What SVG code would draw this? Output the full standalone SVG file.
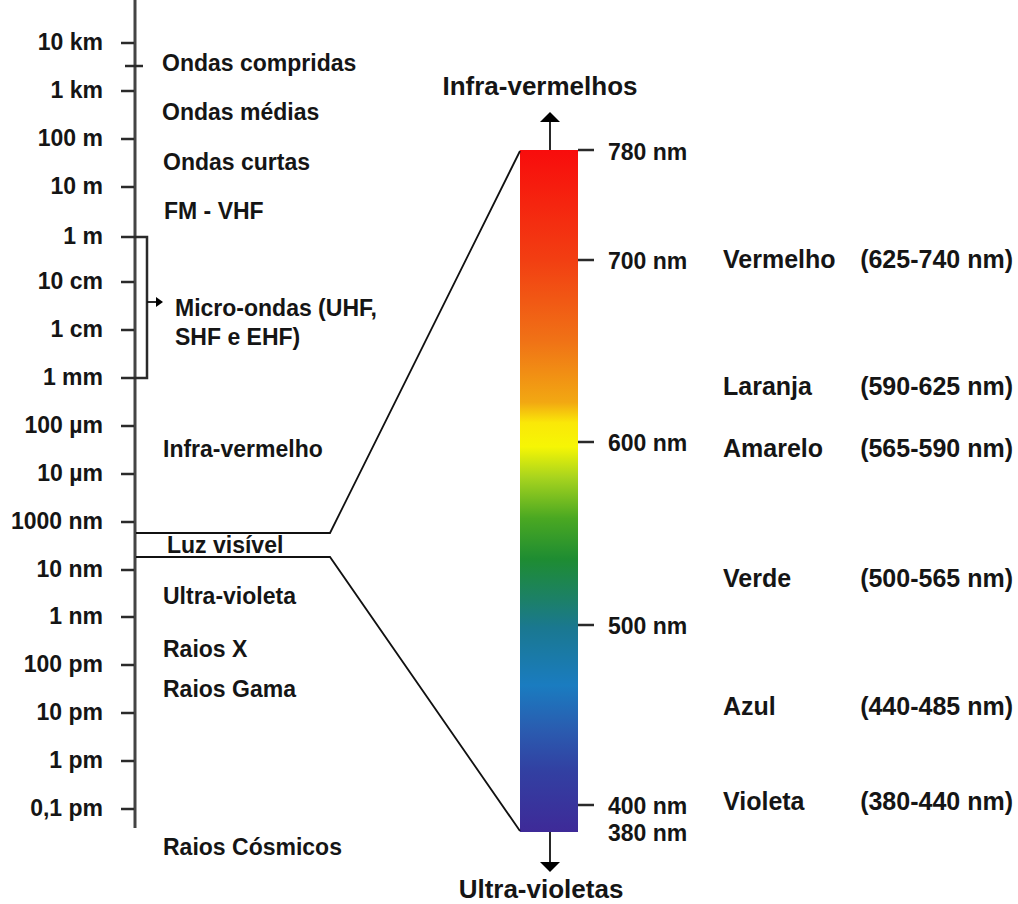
<svg xmlns="http://www.w3.org/2000/svg" width="1018" height="904" viewBox="0 0 1018 904">
<style>
text{font-family:"Liberation Sans",Arial,sans-serif;font-weight:bold;fill:#151515}
.tl{font-size:23px;text-anchor:end}
.bl{font-size:23px}
.nm{font-size:23px}
.cl{font-size:25px}
.rg{font-size:25px;text-anchor:end}
.tt{font-size:26px;text-anchor:middle}
.ax{stroke:#444;stroke-width:3;fill:none}
.tk{stroke:#2a2a2a;stroke-width:2.5;fill:none}
.ln{stroke:#111;stroke-width:1.8;fill:none}
</style>
<defs>
<linearGradient id="spec" x1="0" y1="0" x2="0" y2="1">
<stop offset="0" stop-color="#f80c0c"/>
<stop offset="0.16" stop-color="#f23e12"/>
<stop offset="0.28" stop-color="#f07216"/>
<stop offset="0.37" stop-color="#f2a812"/>
<stop offset="0.40" stop-color="#fae808"/>
<stop offset="0.435" stop-color="#f6f604"/>
<stop offset="0.48" stop-color="#a8d41e"/>
<stop offset="0.54" stop-color="#4aa822"/>
<stop offset="0.60" stop-color="#1e8c32"/>
<stop offset="0.66" stop-color="#1c8068"/>
<stop offset="0.70" stop-color="#1a7890"/>
<stop offset="0.785" stop-color="#1a7cc0"/>
<stop offset="0.85" stop-color="#2a5cb0"/>
<stop offset="0.91" stop-color="#3240a2"/>
<stop offset="1" stop-color="#3e2a98"/>
</linearGradient>
<marker id="ah" markerUnits="userSpaceOnUse" markerWidth="10" markerHeight="20" viewBox="0 0 10 20" refX="0" refY="10" orient="auto">
<path d="M0,0 L10,10 L0,20 z" fill="#000"/>
</marker>
<marker id="ahs" markerUnits="userSpaceOnUse" markerWidth="7" markerHeight="10" viewBox="0 0 7 10" refX="0" refY="5" orient="auto">
<path d="M0,0 L7,5 L0,10 z" fill="#000"/>
</marker>
</defs>
<rect width="1018" height="904" fill="#fff"/>

<g id="scale-axis">
<line class="ax" x1="135" y1="0" x2="135" y2="828"/>
<line class="tk" x1="125" y1="66" x2="143" y2="66"/>
<line class="tk" x1="121" y1="43" x2="134" y2="43"/>
<line class="tk" x1="121" y1="91" x2="134" y2="91"/>
<line class="tk" x1="121" y1="139" x2="134" y2="139"/>
<line class="tk" x1="121" y1="187" x2="134" y2="187"/>
<line class="tk" x1="121" y1="282" x2="134" y2="282"/>
<line class="tk" x1="121" y1="330" x2="134" y2="330"/>
<line class="tk" x1="121" y1="426" x2="134" y2="426"/>
<line class="tk" x1="121" y1="474" x2="134" y2="474"/>
<line class="tk" x1="121" y1="522" x2="134" y2="522"/>
<line class="tk" x1="121" y1="570" x2="134" y2="570"/>
<line class="tk" x1="121" y1="617" x2="134" y2="617"/>
<line class="tk" x1="121" y1="665" x2="134" y2="665"/>
<line class="tk" x1="121" y1="713" x2="134" y2="713"/>
<line class="tk" x1="121" y1="761" x2="134" y2="761"/>
<line class="tk" x1="121" y1="809" x2="134" y2="809"/>
<text class="tl" x="103" y="50">10 km</text>
<text class="tl" x="103" y="98">1 km</text>
<text class="tl" x="103" y="146">100 m</text>
<text class="tl" x="103" y="194">10 m</text>
<text class="tl" x="103" y="244">1 m</text>
<text class="tl" x="103" y="289">10 cm</text>
<text class="tl" x="103" y="337">1 cm</text>
<text class="tl" x="103" y="385">1 mm</text>
<text class="tl" x="103" y="433">100 µm</text>
<text class="tl" x="103" y="481">10 µm</text>
<text class="tl" x="103" y="529">1000 nm</text>
<text class="tl" x="103" y="577">10 nm</text>
<text class="tl" x="103" y="624">1 nm</text>
<text class="tl" x="103" y="672">100 pm</text>
<text class="tl" x="103" y="720">10 pm</text>
<text class="tl" x="103" y="768">1 pm</text>
<text class="tl" x="103" y="816">0,1 pm</text>
</g>

<g id="bands">
<text class="bl" x="162" y="71">Ondas compridas</text>
<text class="bl" x="162" y="120">Ondas médias</text>
<text class="bl" x="163" y="170">Ondas curtas</text>
<text class="bl" x="164" y="219">FM - VHF</text>
<text class="bl" x="163" y="457">Infra-vermelho</text>
<text class="bl" x="167" y="553">Luz visível</text>
<text class="bl" x="163" y="604">Ultra-violeta</text>
<text class="bl" x="163" y="657">Raios X</text>
<text class="bl" x="163" y="697">Raios Gama</text>
<text class="bl" x="163" y="855">Raios Cósmicos</text>
</g>

<g id="microondas">
<text class="bl" x="175" y="316">Micro-ondas (UHF,</text>
<text class="bl" x="175" y="345">SHF e EHF)</text>
</g>

<g id="spectrum-bar">
<rect x="520" y="150" width="58" height="682" fill="url(#spec)"/>
<line class="tk" x1="578" y1="150" x2="594" y2="150"/>
<line class="tk" x1="578" y1="260" x2="594" y2="260"/>
<line class="tk" x1="578" y1="442" x2="594" y2="442"/>
<line class="tk" x1="578" y1="625" x2="594" y2="625"/>
<line class="tk" x1="578" y1="805" x2="594" y2="805"/>
<text class="nm" x="608" y="160">780 nm</text>
<text class="nm" x="608" y="269">700 nm</text>
<text class="nm" x="608" y="451">600 nm</text>
<text class="nm" x="608" y="634">500 nm</text>
<text class="nm" x="608" y="814">400 nm</text>
<text class="nm" x="608" y="841">380 nm</text>
</g>

<g id="title-infra">
<text class="tt" x="540" y="95">Infra-vermelhos</text>
</g>
<g id="title-ultra">
<text class="tt" x="541" y="898">Ultra-violetas</text>
</g>

<g id="colour-labels">
<text class="cl" x="723" y="268">Vermelho</text>
<text class="rg" x="1013" y="268">(625-740 nm)</text>
<text class="cl" x="723" y="395">Laranja</text>
<text class="rg" x="1013" y="395">(590-625 nm)</text>
<text class="cl" x="723" y="457">Amarelo</text>
<text class="rg" x="1013" y="457">(565-590 nm)</text>
<text class="cl" x="723" y="587">Verde</text>
<text class="rg" x="1013" y="587">(500-565 nm)</text>
<text class="cl" x="723" y="715">Azul</text>
<text class="rg" x="1013" y="715">(440-485 nm)</text>
<text class="cl" x="723" y="810">Violeta</text>
<text class="rg" x="1013" y="810">(380-440 nm)</text>
</g>

<g id="connectors">
<path class="tk" d="M121,237 H147 V378 H121"/>
<line class="ln" x1="147" y1="302" x2="156" y2="302" marker-end="url(#ahs)"/>
<path class="ln" d="M136,533 H330 L520,151"/>
<path class="ln" d="M136,557 H330 L520,831"/>
<line class="ln" x1="550" y1="150" x2="550" y2="122" marker-end="url(#ah)"/>
<line class="ln" x1="550" y1="832" x2="550" y2="862" marker-end="url(#ah)"/>
</g>
</svg>
